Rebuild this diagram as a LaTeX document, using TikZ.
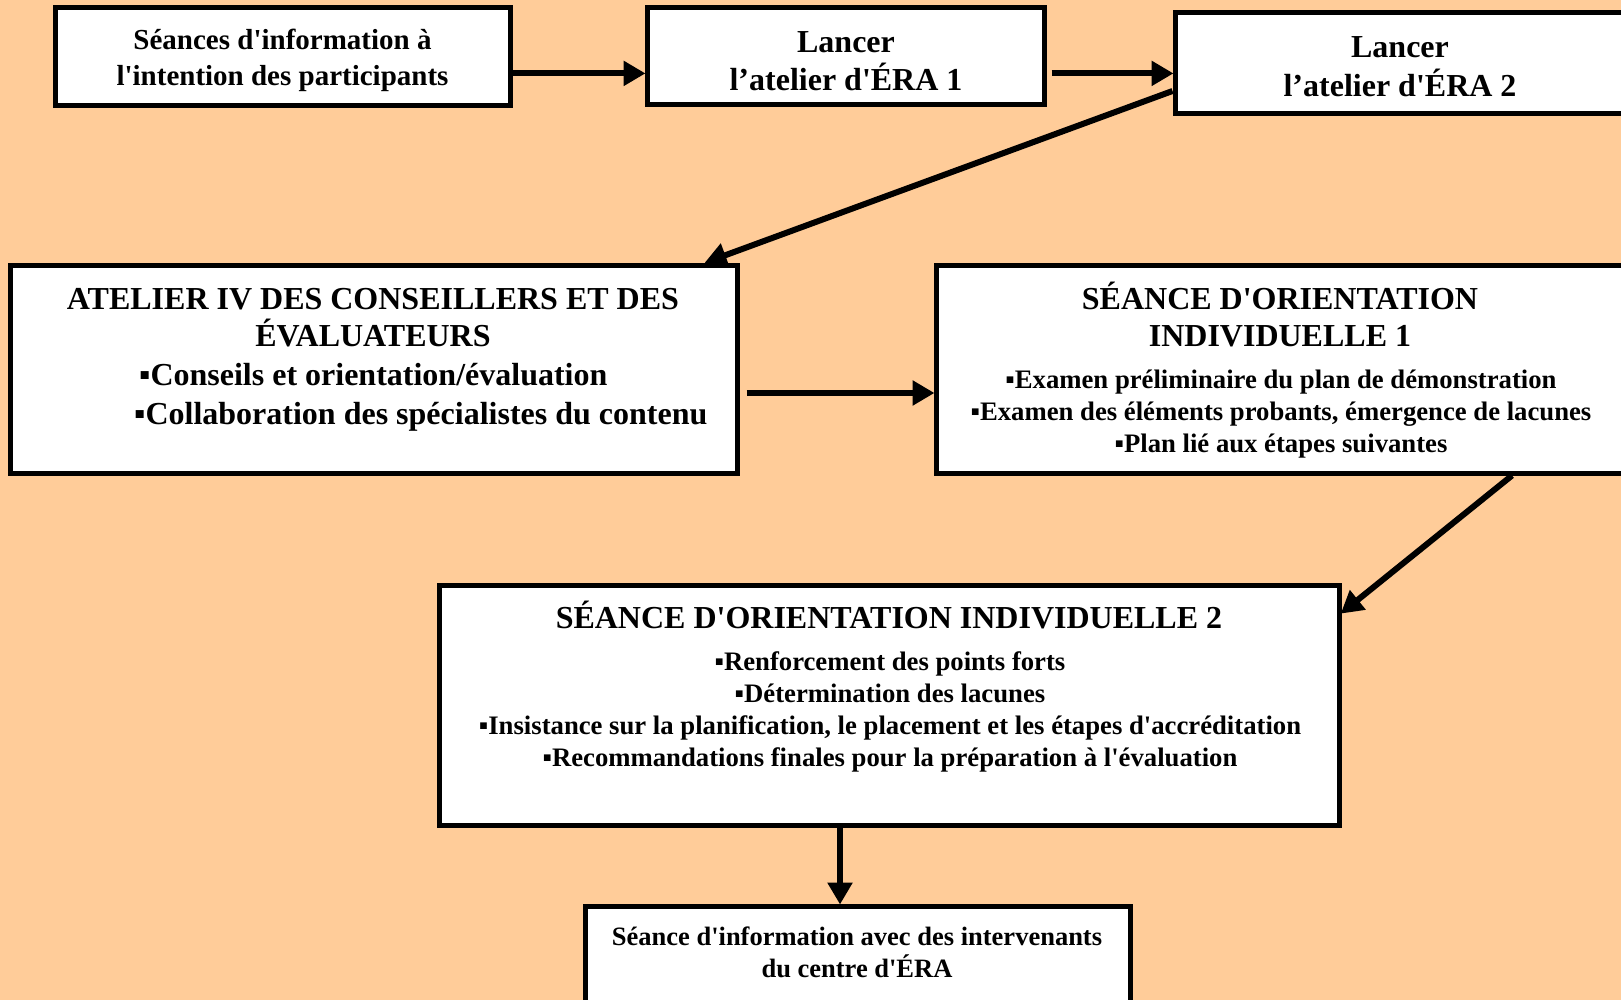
\documentclass[tikz,border=0pt]{standalone}
\usepackage{fontspec}
\newfontfamily\tnr{Liberation Serif}
\usetikzlibrary{arrows.meta,calc}
\definecolor{peach}{RGB}{255,204,153}
\tikzset{
  box/.style={draw=black, line width=5pt, fill=white, rectangle, inner sep=0pt, anchor=center},
  arr/.style={draw=black, line width=6pt, -{Triangle[length=22pt,width=24pt]}, shorten >=-1pt},
  tA/.style={inner sep=0pt, anchor=base, font=\tnr\bfseries\fontsize{29}{36}\selectfont},
  tL/.style={inner sep=0pt, anchor=base, font=\tnr\bfseries\fontsize{32}{38}\selectfont},
  tB/.style={inner sep=0pt, anchor=base, font=\tnr\bfseries\fontsize{26.7}{32}\selectfont},
  tG/.style={inner sep=0pt, anchor=base, font=\tnr\bfseries\fontsize{26.5}{32}\selectfont},
}
\begin{document}
\begin{tikzpicture}[x=1pt,y=-1pt]
\useasboundingbox (0,0) rectangle (1621,1000);
\clip (0,0) rectangle (1621,1000);
\fill[peach] (0,0) rectangle (1621,1000);
% boxes
\node[box, minimum width=455pt, minimum height=98pt] (A) at (282.5,57) {};
\node[box, minimum width=397pt, minimum height=97pt] (B) at (845.5,56.5) {};
\node[box, minimum width=485pt, minimum height=101pt] (C) at (1417.5,63.5) {};
\node[box, minimum width=727pt, minimum height=208pt] (D) at (373.5,369) {};
\node[box, minimum width=724pt, minimum height=208pt] (E) at (1298,369) {};
\node[box, minimum width=900pt, minimum height=240pt] (F) at (889,705) {};
\node[box, minimum width=545pt, minimum height=134pt] (G) at (857.5,973) {};
% texts
\node[tA] (a1) at (282.5,49.5) {Séances d'information à};
\node[tA] (a2) at (282.5,86) {l'intention des participants};
\node[tL] (b1) at (846,53) {Lancer};
\node[tL] (b2) at (846,91) {l’atelier d'ÉRA 1};
\node[tL] (c1) at (1400,58) {Lancer};
\node[tL] (c2) at (1400,96.4) {l’atelier d'ÉRA 2};
\node[tL] (d1) at (373,309.4) {ATELIER IV DES CONSEILLERS ET DES};
\node[tL] (d2) at (373,346.4) {ÉVALUATEURS};
\node[tL, anchor=base west] (d3) at (139,385) {▪Conseils et orientation/évaluation};
\node[tL, anchor=base west] (d4) at (134,424) {▪Collaboration des spécialistes du contenu};
\node[tL] (e1) at (1280,309.4) {SÉANCE D'ORIENTATION};
\node[tL] (e2) at (1280,346.4) {INDIVIDUELLE 1};
\node[tB] (e3) at (1281,388) {▪Examen préliminaire du plan de démonstration};
\node[tB] (e4) at (1281,420) {▪Examen des éléments probants, émergence de lacunes};
\node[tB] (e5) at (1281,452) {▪Plan lié aux étapes suivantes};
\node[tL] (f1) at (889,628.4) {SÉANCE D'ORIENTATION INDIVIDUELLE 2};
\node[tB] (f2) at (890,670) {▪Renforcement des points forts};
\node[tB] (f3) at (890,702) {▪Détermination des lacunes};
\node[tB] (f4) at (890,734) {▪Insistance sur la planification, le placement et les étapes d'accréditation};
\node[tB] (f5) at (890,766) {▪Recommandations finales pour la préparation à l'évaluation};
\node[tG] (g1) at (857,945.7) {Séance d'information avec des intervenants};
\node[tG] (g2) at (857,977.7) {du centre d'ÉRA};
% connector end points
\coordinate (ab) at ([yshift=-16.4pt]A.east);
\coordinate (bc) at ([xshift=5pt,yshift=-16.9pt]B.east);
\coordinate (cd) at ([yshift=-27.5pt]C.west);
\coordinate (dtop) at ([xshift=-34pt]D.north east);
\coordinate (de) at ([xshift=7pt,yshift=-24pt]D.east);
\coordinate (ef) at ([xshift=214pt]E.south);
\coordinate (fr) at ([yshift=92pt]F.east);
\coordinate (fg) at ([xshift=-49pt]F.south);
% connectors
\draw[arr] (ab) -- (ab -| B.west);
\draw[arr] (bc) -- (bc -| C.west);
\draw[arr] (cd) -- (dtop);
\draw[arr] (de) -- (de -| E.west);
\draw[arr] (ef) -- (fr);
\draw[arr] (fg) -- (fg |- G.north);
\end{tikzpicture}
\end{document}
